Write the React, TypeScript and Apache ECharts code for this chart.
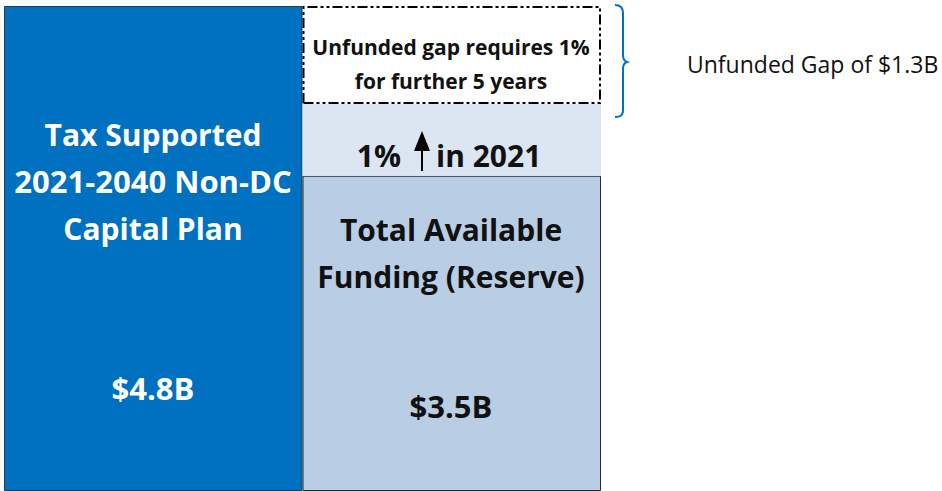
import React, { useEffect, useRef } from "react";
import * as echarts from "echarts";

const categories = ["Capital Plan", "Funding"];
const planValues = [4.8, "-"];
const reserveValues = ["-", 3.12];
const increaseValues = ["-", 0.71];
const gapValues = ["-", 0.97];

const planTitle = ["Tax Supported", "2021-2040 Non-DC", "Capital Plan"];
const planLabel = "$4.8B";
const reserveTitle = ["Total Available", "Funding (Reserve)"];
const reserveLabel = "$3.5B";
const gapNote = ["Unfunded gap requires 1%", "for further 5 years"];
const gapSummary = "Unfunded Gap of $1.3B";

const FONT = "'Open Sans', Lato, sans-serif";

echarts.graphic.registerShape(
  "brace",
  echarts.graphic.extendPath(
    "M0,0 C5,0 8,2 8,8 L8,50 C8,54 9,56 12,57 C9,58 8,60 8,64 L8,105 C8,111 5,112 0,112",
    {}
  )
);

export default function App() {
  const ref = useRef<HTMLDivElement>(null);
  useEffect(() => {
    const chart = echarts.init(ref.current!, null, { renderer: "svg" });
    const t = (text: string, x: number, y: number, size: number, color: string, weight = "bold", align = "center") => ({
      type: "text",
      x,
      y,
      z: 100,
      style: {
        text,
        fill: color,
        fontSize: size,
        fontWeight: weight,
        fontFamily: FONT,
        align,
        verticalAlign: "middle",
      },
    });
    chart.setOption({
      animation: false,
      grid: { left: 4, right: 341, top: 6, bottom: 0, containLabel: false },
      xAxis: { type: "category", data: categories, show: false },
      yAxis: { type: "value", min: 0, max: 4.8, show: false },
      series: [
        {
          name: "Capital Plan",
          type: "bar",
          stack: "total",
          data: planValues,
          barCategoryGap: "0%",
          barGap: "0%",
          itemStyle: { color: "#0070C0", borderColor: "#2a3b4c", borderWidth: 1 },
        },
        {
          name: "Reserve",
          type: "bar",
          stack: "total",
          data: reserveValues,
          itemStyle: { color: "#B9CDE5", borderColor: "#2a2a2a", borderWidth: 1 },
        },
        {
          name: "1% in 2021",
          type: "bar",
          stack: "total",
          data: increaseValues,
          itemStyle: { color: "#DCE6F2", borderWidth: 0 },
        },
        {
          name: "Unfunded gap",
          type: "bar",
          stack: "total",
          data: gapValues,
          itemStyle: {
            color: "#ffffff",
            borderColor: "#000000",
            borderWidth: 2,
            borderType: [10, 3, 3, 3, 3, 3],
          },
        },
      ],
      graphic: [
        t(planTitle[0], 153, 134, 30, "#ffffff"),
        t(planTitle[1], 153, 181, 31, "#ffffff"),
        t(planTitle[2], 153, 228, 30, "#ffffff"),
        t(planLabel, 153, 388, 31, "#ffffff"),
        t(reserveTitle[0], 451, 229, 30, "#111111"),
        t(reserveTitle[1], 451, 276, 30, "#111111"),
        t(reserveLabel, 451, 406, 31, "#111111"),
        t(gapNote[0], 451, 47, 21, "#111111"),
        t(gapNote[1], 451, 81, 21, "#111111"),
        t("1%", 401, 155, 30, "#111111", "bold", "right"),
        t("in 2021", 436, 155, 30, "#111111", "bold", "left"),
        {
          type: "polygon",
          z: 100,
          shape: { points: [[422, 131], [414, 151], [430, 151]] },
          style: { fill: "#000000" },
        },
        {
          type: "line",
          z: 100,
          shape: { x1: 422, y1: 148, x2: 422, y2: 171 },
          style: { stroke: "#000000", lineWidth: 2 },
        },
        {
          type: "brace",
          z: 100,
          x: 615,
          y: 5,
          scaleX: 1,
          scaleY: 1.0,
          style: { fill: "none", stroke: "#0070C0", lineWidth: 2 },
        },
        t(gapSummary, 687, 64, 23, "#111111", "normal", "left"),
      ],
    });
    return () => chart.dispose();
  }, []);
  return <div ref={ref} style={{ width: 942, height: 491, position: "absolute", left: 0, top: 0 }} />;
}
